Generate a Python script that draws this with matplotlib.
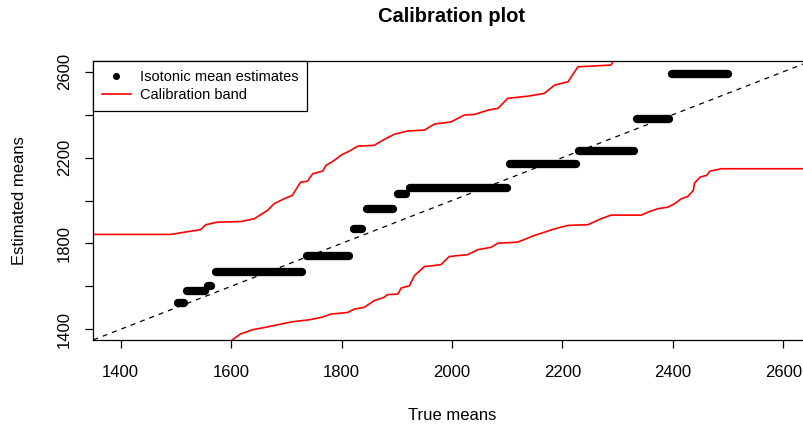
import numpy as np
import matplotlib.pyplot as plt

plt.rcParams['font.family'] = ['Liberation Sans', 'DejaVu Sans']

# isotonic mean estimates: horizontal runs (true-mean start, end, estimated mean)
iso_start = [1503, 1521, 1559, 1572, 1737, 1822, 1846, 1902, 1924, 2105, 2230, 2335, 2399]
iso_end = [1514, 1553, 1563, 1728, 1813, 1837, 1893, 1917, 2100, 2225, 2330, 2393, 2499]
iso_value = [1521, 1580, 1603, 1666, 1740, 1866, 1959, 2032, 2058, 2170, 2230, 2378, 2591]

# upper calibration band
upper_x = [1351, 1491, 1515, 1545, 1554, 1575, 1618, 1642, 1666, 1678, 1696, 1711,
           1726, 1738, 1748, 1766, 1772, 1787, 1799, 1817, 1829, 1859, 1877, 1896,
           1920, 1950, 1968, 1998, 2022, 2041, 2065, 2083, 2101, 2137, 2167, 2186,
           2210, 2228, 2258, 2288, 2294]
upper_y = [1842, 1842, 1852, 1864, 1887, 1899, 1902, 1915, 1954, 1985, 2008, 2024,
           2086, 2089, 2125, 2137, 2164, 2187, 2211, 2234, 2253, 2257, 2284, 2309,
           2324, 2328, 2356, 2366, 2398, 2401, 2421, 2429, 2476, 2486, 2499, 2538,
           2553, 2623, 2627, 2631, 2660]

# lower calibration band
lower_x = [1600, 1617, 1639, 1660, 1690, 1711, 1741, 1763, 1781, 1811, 1823, 1841,
           1859, 1877, 1883, 1902, 1908, 1923, 1932, 1950, 1980, 1995, 2029, 2047,
           2071, 2083, 2119, 2149, 2167, 2186, 2210, 2246, 2270, 2288, 2343, 2355,
           2373, 2391, 2403, 2415, 2427, 2437, 2439, 2449, 2461, 2467, 2488, 2660]
lower_y = [1346, 1378, 1398, 1408, 1424, 1435, 1444, 1455, 1471, 1478, 1494, 1502,
           1533, 1549, 1561, 1564, 1592, 1603, 1650, 1692, 1701, 1739, 1748, 1771,
           1782, 1801, 1806, 1837, 1852, 1868, 1884, 1887, 1915, 1932, 1932, 1946,
           1962, 1969, 1985, 2008, 2019, 2047, 2081, 2109, 2117, 2137, 2148, 2148]

ticks = np.arange(1400, 2601, 200)

fig = plt.figure(figsize=(8.04, 4.25), dpi=100)
ax = fig.add_axes([93 / 804, 85 / 425, 718 / 804, 279 / 425])

ax.plot([1300, 2700], [1300, 2700], color='black', lw=0.9, ls=(0, (4, 4)))
ax.plot(upper_x, upper_y, color='red', lw=1.2)
ax.plot(lower_x, lower_y, color='red', lw=1.2)
ax.hlines(iso_value, iso_start, iso_end, color='black', lw=6, capstyle='round')

ax.set_xlim(1350, 2650)
ax.set_ylim(1350, 2650)
ax.set_xticks(ticks)
ax.set_yticks(ticks)
ax.set_yticklabels([str(t) if (t - 1400) % 400 == 0 else '' for t in ticks],
                   rotation=90, va='center')
ax.tick_params(length=6, width=0.9, labelsize=12)
ax.tick_params(axis='x', pad=12)
ax.tick_params(axis='y', pad=9)
for s in ax.spines.values():
    s.set_linewidth(0.9)
ax.spines['right'].set_visible(False)

ax.set_xlabel('True means', fontsize=12, labelpad=20)
ax.set_ylabel('Estimated means', fontsize=12, labelpad=22)
ax.set_title('Calibration plot', fontsize=14.5, fontweight='bold', pad=28)

h1, = ax.plot([], [], 'o', color='black', ms=4)
h2, = ax.plot([], [], color='red', lw=1.2)
leg = ax.legend([h1, h2], ['Isotonic mean estimates', 'Calibration band'],
                loc='upper left', borderaxespad=0, fontsize=10.5, fancybox=False,
                framealpha=1, edgecolor='black', handlelength=2.0,
                handletextpad=0.6, borderpad=0.6, labelspacing=0.3)
leg.get_frame().set_linewidth(0.9)

fig.savefig('out.png', dpi=100)
